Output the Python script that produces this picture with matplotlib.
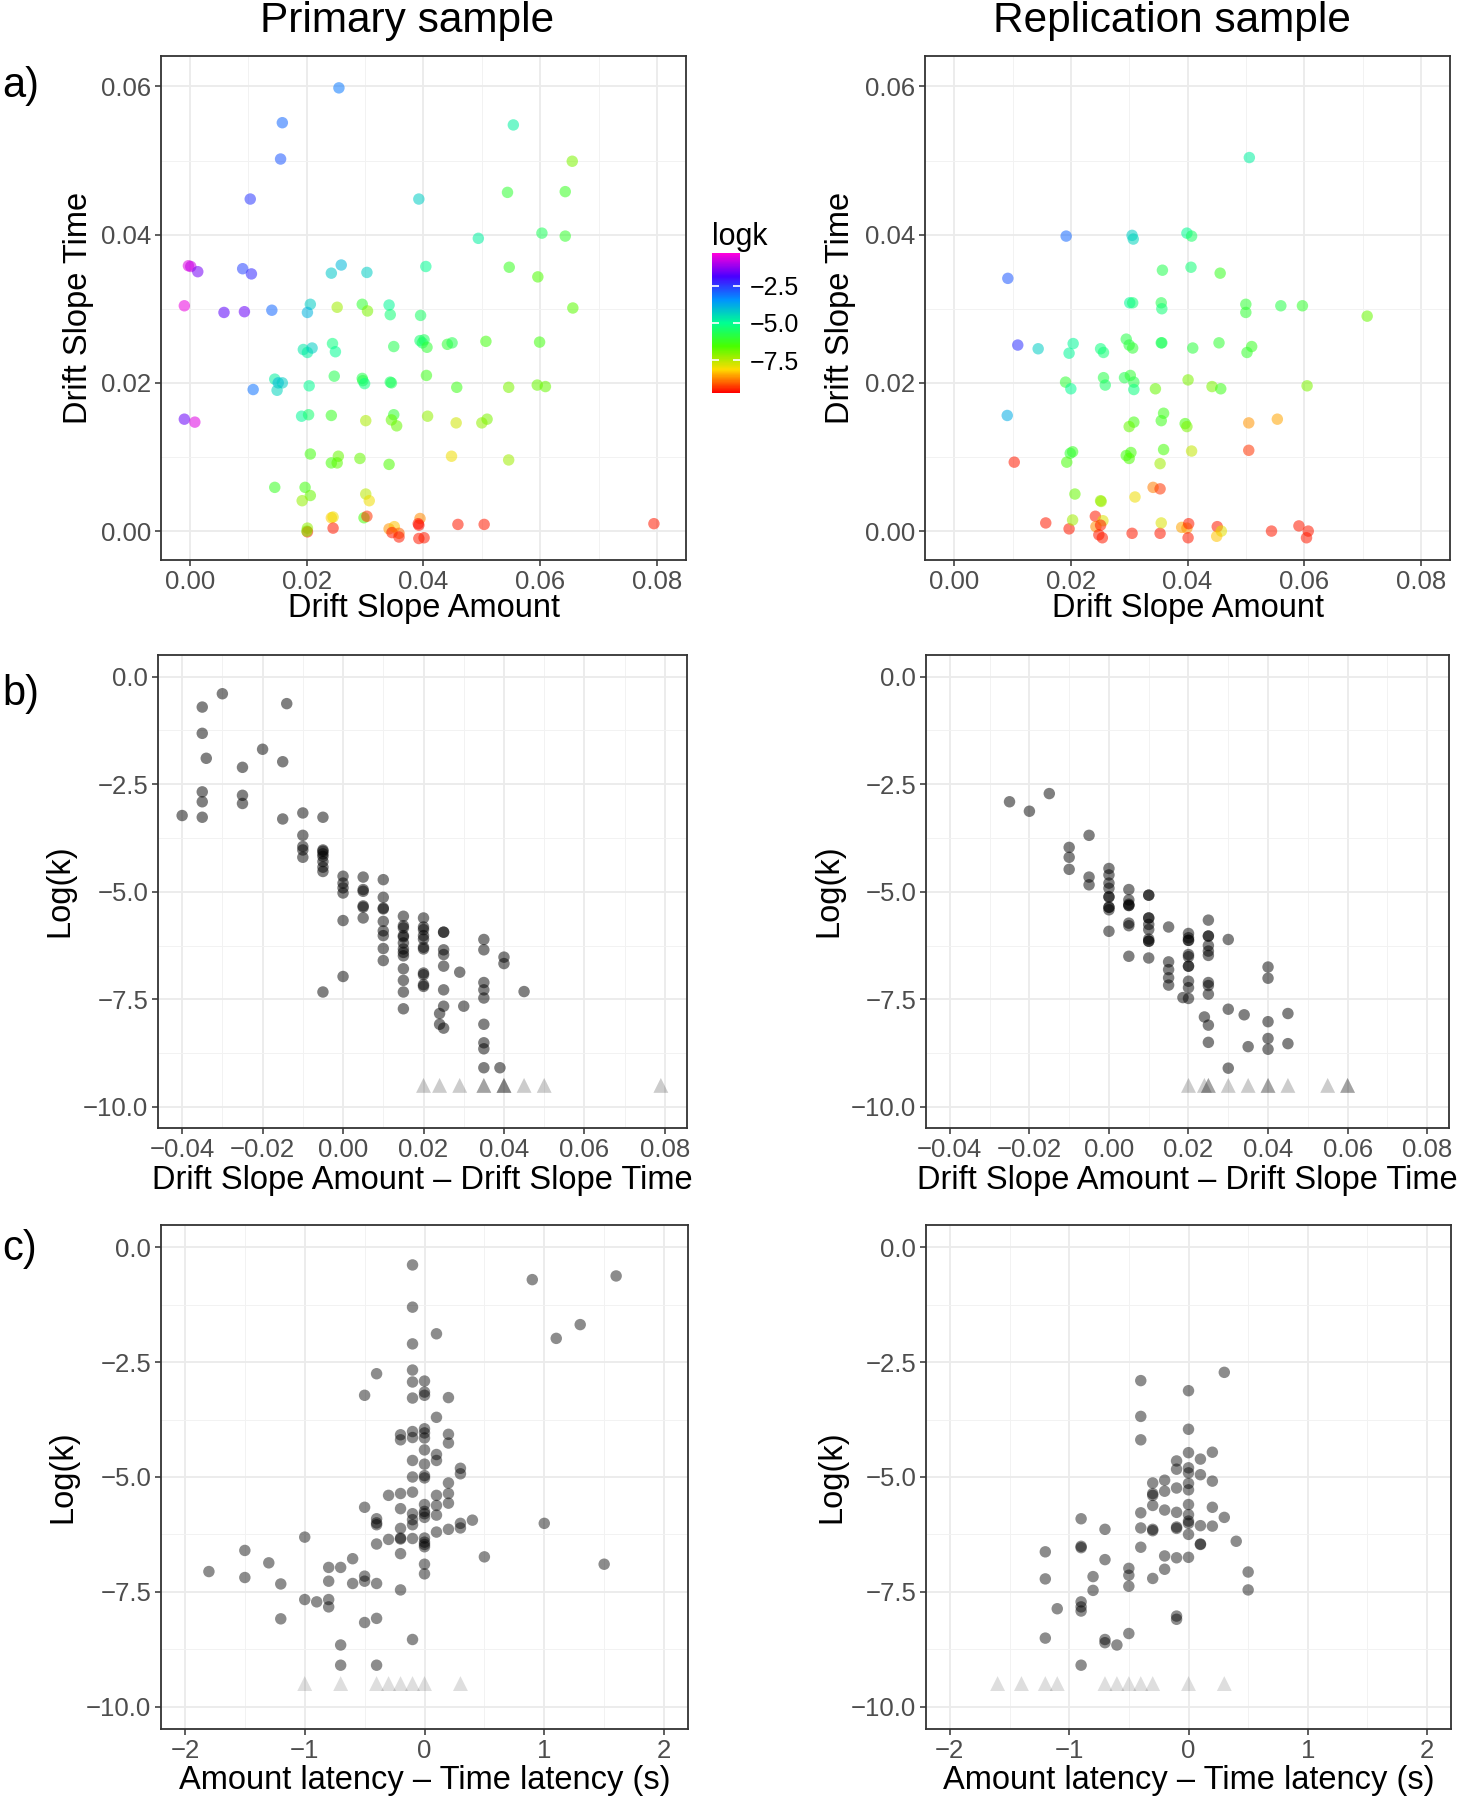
import numpy as np
import matplotlib
matplotlib.use("Agg")
import matplotlib.pyplot as plt
from matplotlib.colors import LinearSegmentedColormap, Normalize
from matplotlib.cm import ScalarMappable

# ---------------- data ----------------
# a) drift slopes, coloured by logk
prim_amount = [0.0255, 0.0158, 0.0155, 0.0103, 0.0554, 0.0655, 0.0544, 0.0643, 0.0392, 0.0494, 0.0603, 0.0643,
               -0.0003, 0.0001, 0.0013, 0.0090, 0.0105, 0.0242, 0.0259, 0.0303, 0.0404, 0.0547, 0.0596,
               -0.0010, 0.0058, 0.0093, 0.0140, 0.0206, 0.0201, 0.0252, 0.0295, 0.0304, 0.0341, 0.0343, 0.0395, 0.0656,
               0.0194, 0.0201, 0.0209, 0.0244, 0.0249, 0.0349, 0.0394, 0.0401, 0.0398, 0.0406, 0.0441, 0.0449, 0.0507, 0.0599,
               0.0145, 0.0151, 0.0158, 0.0149, 0.0108, 0.0204, 0.0247, 0.0295, 0.0296, 0.0299, 0.0343, 0.0345, 0.0405, 0.0457,
               0.0546, 0.0595, 0.0609,
               -0.0010, 0.0008, 0.0191, 0.0203, 0.0242, 0.0301, 0.0349, 0.0345, 0.0354, 0.0407, 0.0456, 0.0500, 0.0509,
               0.0206, 0.0254, 0.0242, 0.0252, 0.0291, 0.0341, 0.0448, 0.0546,
               0.0145, 0.0197, 0.0206, 0.0192, 0.0301, 0.0307,
               0.0242, 0.0245, 0.0298, 0.0303,
               0.0201, 0.0201, 0.0200, 0.0245, 0.0341, 0.0350, 0.0346, 0.0358, 0.0358, 0.0394, 0.0391, 0.0392, 0.0392,
               0.0401, 0.0459, 0.0504, 0.0795]
prim_time = [0.0598, 0.0551, 0.0502, 0.0448, 0.0548, 0.0499, 0.0457, 0.0458, 0.0448, 0.0395, 0.0402, 0.0398,
             0.0358, 0.0357, 0.0350, 0.0354, 0.0347, 0.0348, 0.0359, 0.0349, 0.0357, 0.0356, 0.0343,
             0.0304, 0.0295, 0.0296, 0.0298, 0.0306, 0.0295, 0.0302, 0.0306, 0.0297, 0.0305, 0.0292, 0.0291, 0.0301,
             0.0245, 0.0241, 0.0247, 0.0253, 0.0242, 0.0249, 0.0257, 0.0258, 0.0254, 0.0248, 0.0252, 0.0254, 0.0256, 0.0255,
             0.0205, 0.0200, 0.0200, 0.0190, 0.0191, 0.0196, 0.0209, 0.0206, 0.0203, 0.0199, 0.0201, 0.0200, 0.0210, 0.0194,
             0.0194, 0.0197, 0.0195,
             0.0151, 0.0147, 0.0155, 0.0157, 0.0156, 0.0149, 0.0157, 0.0150, 0.0142, 0.0155, 0.0146, 0.0146, 0.0151,
             0.0104, 0.0101, 0.0092, 0.0092, 0.0098, 0.0090, 0.0101, 0.0096,
             0.0059, 0.0059, 0.0048, 0.0041, 0.0050, 0.0041,
             0.0018, 0.0019, 0.0018, 0.0020,
             0.0004, -0.0001, 0.0000, 0.0004, 0.0003, 0.0006, -0.0002, -0.0003, -0.0008, 0.0017, 0.0010, 0.0008, -0.0010,
             -0.0009, 0.0009, 0.0009, 0.0010]
prim_logk = [-3.2, -3.0, -2.8, -2.5, -4.8, -7.0, -6.0, -6.2, -4.3, -4.8, -5.6, -6.1,
             -0.6, -0.8, -1.5, -2.6, -2.3, -4.2, -4.0, -4.3, -5.0, -6.2, -6.6,
             -0.5, -1.7, -1.6, -3.0, -4.3, -3.9, -7.3, -6.0, -7.0, -4.9, -5.3, -5.5, -6.7,
             -4.7, -4.8, -4.3, -5.2, -5.0, -5.7, -5.4, -5.6, -5.5, -6.0, -6.0, -5.7, -6.4, -6.4,
             -4.8, -4.0, -4.3, -4.4, -3.1, -5.0, -5.7, -5.7, -5.8, -5.2, -5.5, -5.6, -6.3, -6.3, -7.0, -6.8, -6.8,
             -1.6, -0.6, -4.9, -5.4, -6.2, -7.4, -6.0, -6.8, -6.8, -7.2, -7.7, -7.2, -7.0,
             -6.4, -6.8, -6.5, -6.7, -6.8, -6.6, -8.0, -7.3,
             -6.2, -6.4, -6.8, -7.2, -7.5, -8.0,
             -8.2, -8.0, -6.5, -9.3,
             -7.2, -9.5, -7.0, -9.5, -8.6, -8.3, -9.5, -9.0, -9.5, -8.7, -9.5, -9.6, -9.5, -9.5, -9.5, -9.5, -9.5]

rep_amount = [0.0506, 0.0192, 0.0305, 0.0307, 0.0399, 0.0407, 0.0092, 0.0357, 0.0406, 0.0456,
              0.0301, 0.0306, 0.0355, 0.0356, 0.0500, 0.0500, 0.0560, 0.0597, 0.0708,
              0.0109, 0.0144, 0.0204, 0.0197, 0.0251, 0.0256, 0.0295, 0.0300, 0.0306, 0.0355, 0.0356, 0.0409, 0.0454,
              0.0510, 0.0502,
              0.0191, 0.0200, 0.0256, 0.0259, 0.0292, 0.0302, 0.0308, 0.0308, 0.0345, 0.0401, 0.0442, 0.0457, 0.0605,
              0.0091, 0.0359, 0.0308, 0.0300, 0.0355, 0.0396, 0.0399, 0.0505, 0.0554,
              0.0103, 0.0203, 0.0199, 0.0193, 0.0295, 0.0303, 0.0300, 0.0359, 0.0353, 0.0407, 0.0505,
              0.0207, 0.0251, 0.0252, 0.0310, 0.0341, 0.0353,
              0.0157, 0.0197, 0.0203, 0.0242, 0.0255, 0.0243, 0.0251, 0.0248, 0.0254, 0.0305, 0.0353, 0.0355, 0.0390,
              0.0399, 0.0402, 0.0401, 0.0451, 0.0458, 0.0450, 0.0544, 0.0591, 0.0607, 0.0604]
rep_time = [0.0504, 0.0398, 0.0399, 0.0394, 0.0402, 0.0398, 0.0341, 0.0352, 0.0356, 0.0348,
            0.0308, 0.0308, 0.0308, 0.0300, 0.0306, 0.0295, 0.0304, 0.0304, 0.0290,
            0.0251, 0.0246, 0.0253, 0.0240, 0.0246, 0.0241, 0.0259, 0.0251, 0.0247, 0.0254, 0.0254, 0.0247, 0.0254,
            0.0249, 0.0241,
            0.0201, 0.0192, 0.0207, 0.0197, 0.0207, 0.0210, 0.0201, 0.0191, 0.0192, 0.0204, 0.0195, 0.0192, 0.0196,
            0.0156, 0.0159, 0.0147, 0.0141, 0.0149, 0.0145, 0.0141, 0.0146, 0.0151,
            0.0093, 0.0107, 0.0105, 0.0093, 0.0102, 0.0106, 0.0098, 0.0110, 0.0091, 0.0108, 0.0109,
            0.0050, 0.0041, 0.0040, 0.0046, 0.0059, 0.0057,
            0.0011, 0.0003, 0.0015, 0.0020, 0.0014, 0.0006, 0.0008, -0.0005, -0.0009, -0.0003, -0.0003, 0.0011, 0.0005,
            0.0004, 0.0010, -0.0009, 0.0006, 0.0000, -0.0007, 0.0000, 0.0007, 0.0000, -0.0009]
rep_logk = [-4.8, -3.0, -4.3, -4.4, -5.0, -5.5, -2.8, -5.7, -5.3, -6.2,
            -4.9, -5.3, -5.7, -5.3, -6.0, -6.0, -5.8, -6.1, -6.8,
            -2.4, -4.3, -4.9, -4.9, -5.2, -5.3, -5.8, -5.9, -6.0, -5.6, -5.6, -5.9, -6.0, -6.2, -6.1,
            -6.0, -5.0, -5.8, -5.5, -5.7, -6.0, -5.8, -5.2, -6.8, -7.0, -7.0, -6.3, -7.0,
            -3.8, -6.3, -6.4, -6.8, -6.3, -6.5, -7.0, -8.6, -8.5,
            -9.5, -6.2, -6.0, -6.5, -6.4, -6.5, -6.6, -6.5, -7.3, -7.6, -9.3,
            -6.8, -7.2, -7.3, -8.0, -8.8, -9.3,
            -9.5, -9.5, -7.3, -9.5, -7.8, -8.7, -9.5, -9.5, -9.5, -9.5, -9.5, -7.8, -8.5, -8.6, -9.5, -9.5, -9.5,
            -7.9, -8.3, -9.5, -9.5, -9.5, -9.5]

# b) logk vs (amount slope - time slope); triangles = logk below floor
prim_diff = [-0.040, -0.035, -0.035, -0.034, -0.035, -0.035, -0.035, -0.030, -0.025, -0.025, -0.025, -0.020, -0.015,
             -0.014, -0.015,
             -0.010, -0.010, -0.010, -0.010, -0.010,
             -0.005, -0.005, -0.005, -0.005, -0.005, -0.005, -0.005, -0.005, -0.005,
             0.000, 0.000, 0.000, 0.000, 0.000, 0.000,
             0.005, 0.005, 0.005, 0.005, 0.005, 0.005,
             0.010, 0.010, 0.010, 0.010, 0.010, 0.010, 0.010, 0.010, 0.010,
             0.015, 0.015, 0.015, 0.015, 0.015, 0.015, 0.015, 0.015, 0.015, 0.015, 0.015, 0.015, 0.015,
             0.020, 0.020, 0.020, 0.020, 0.020, 0.020, 0.020, 0.020, 0.020, 0.020, 0.020,
             0.025, 0.025, 0.025, 0.025, 0.025, 0.025, 0.025, 0.025, 0.024, 0.024,
             0.029, 0.030,
             0.035, 0.035, 0.035, 0.035, 0.035, 0.035, 0.035, 0.035, 0.035,
             0.039, 0.040, 0.040, 0.045]
prim_diff_logk = [-3.23, -0.71, -1.32, -1.90, -2.68, -2.91, -3.27, -0.40, -2.11, -2.76, -2.95, -1.69, -1.98,
                  -0.63, -3.31,
                  -3.17, -3.69, -3.95, -4.03, -4.20,
                  -3.27, -4.03, -4.06, -4.12, -4.18, -4.30, -4.43, -4.53, -7.33,
                  -4.64, -4.80, -4.91, -5.03, -5.67, -6.97,
                  -4.66, -4.95, -4.99, -5.33, -5.36, -5.61,
                  -4.72, -5.13, -5.38, -5.40, -5.69, -5.91, -6.02, -6.32, -6.60,
                  -5.57, -5.79, -5.84, -6.02, -6.05, -6.19, -6.33, -6.41, -6.49, -6.79, -7.06, -7.33, -7.72,
                  -5.61, -5.82, -5.88, -6.02, -6.10, -6.29, -6.33, -6.89, -6.93, -7.16, -7.20,
                  -5.94, -5.94, -6.35, -6.46, -6.73, -7.28, -7.66, -8.17, -7.83, -8.08,
                  -6.87, -7.66,
                  -6.11, -6.35, -7.11, -7.28, -7.47, -8.08, -8.51, -8.65, -9.09,
                  -9.09, -6.52, -6.67, -7.32]
prim_diff_floor = [0.020, 0.024, 0.029, 0.035, 0.035, 0.040, 0.040, 0.040, 0.045, 0.050, 0.079]

rep_diff = [-0.025, -0.020, -0.015,
            -0.010, -0.010, -0.010,
            -0.005, -0.005, -0.005,
            0.000, 0.000, 0.000, 0.000, 0.000, 0.000, 0.000, 0.000, 0.000, 0.000,
            0.005, 0.005, 0.005, 0.005, 0.005, 0.005, 0.005, 0.005,
            0.010, 0.010, 0.010, 0.010, 0.010, 0.010, 0.010, 0.010, 0.010, 0.010,
            0.015, 0.015, 0.015, 0.015, 0.015,
            0.020, 0.020, 0.020, 0.020, 0.020, 0.020, 0.020, 0.020, 0.020, 0.020, 0.020, 0.0186,
            0.025, 0.025, 0.025, 0.025, 0.025, 0.025, 0.025, 0.025, 0.025, 0.025, 0.025, 0.024,
            0.030, 0.030, 0.030,
            0.034, 0.035,
            0.040, 0.040, 0.040, 0.040, 0.040,
            0.045, 0.045]
rep_diff_logk = [-2.91, -3.13, -2.72,
                 -3.97, -4.20, -4.48,
                 -3.69, -4.66, -4.84,
                 -4.46, -4.61, -4.80, -4.92, -5.12, -5.12, -5.36, -5.36, -5.42, -5.92,
                 -4.95, -5.19, -5.29, -5.32, -5.32, -5.73, -5.79, -6.50,
                 -5.08, -5.08, -5.61, -5.61, -5.76, -5.88, -6.10, -6.15, -6.15, -6.54,
                 -5.82, -6.63, -6.81, -7.00, -7.17,
                 -5.97, -6.07, -6.13, -6.13, -6.46, -6.51, -6.73, -6.73, -7.08, -7.23, -7.48, -7.46,
                 -5.66, -6.03, -6.03, -6.25, -6.38, -6.48, -7.11, -7.18, -7.38, -8.10, -8.50, -7.91,
                 -6.11, -7.73, -9.10,
                 -7.86, -8.60,
                 -6.75, -7.01, -8.02, -8.41, -8.66,
                 -7.83, -8.53]
rep_diff_floor = [0.020, 0.024, 0.025, 0.025, 0.030, 0.035, 0.040, 0.040, 0.045, 0.055, 0.060, 0.060]

# c) logk vs (amount latency - time latency)
prim_lat = [-0.1, 0.9, 1.6, -0.1, 1.3, 0.1, 1.1, -0.1,
            -0.4, -0.1, -0.1, 0.0, 0.0, 0.0, -0.5, -0.1, 0.2, 0.1,
            -0.2, -0.2, -0.1, -0.1, 0.0, 0.0, 0.0, 0.2, 0.2, 0.0,
            -0.1, 0.1, 0.1, 0.0, 0.3, 0.3, -0.1, 0.0, 0.0, 0.2,
            -0.3, -0.2, -0.1, 0.1, 0.2, 0.2, -0.5, -0.2,
            0.0, 0.0, 0.0, 0.0, 0.1, 0.1, -0.1, -0.1, -0.1,
            -0.4, -0.4, -0.4, -0.2, -0.2, -0.2, -0.3, -0.1,
            0.0, 0.0, 0.0, 0.0, 0.1, 0.2, 0.3, 0.3, 0.4, 1.0,
            -1.0, -0.4, -0.2, -1.5, 0.5, -1.3, -0.6, -1.8,
            -0.8, -0.7, 0.0, 0.0, 1.5, -1.5, -0.8, -0.5, -0.5,
            -0.6, -0.4, -1.2, -0.2, -1.0, -0.9, -0.8, -0.8,
            -1.2, -0.5, -0.4, -0.1, -0.7, -0.7, -0.4]
prim_lat_logk = [-0.38, -0.70, -0.62, -1.30, -1.68, -1.88, -1.98, -2.10,
                 -2.75, -2.67, -2.93, -2.91, -3.15, -3.22, -3.22, -3.28, -3.27, -3.70,
                 -4.08, -4.19, -4.01, -4.14, -3.95, -4.04, -4.15, -4.07, -4.26, -4.41,
                 -4.64, -4.51, -4.64, -4.72, -4.81, -4.93, -5.00, -4.97, -5.02, -5.13,
                 -5.40, -5.36, -5.33, -5.40, -5.36, -5.57, -5.66, -5.69,
                 -5.60, -5.75, -5.80, -5.88, -5.62, -5.83, -5.80, -5.93, -6.04,
                 -5.91, -6.00, -6.04, -6.12, -6.33, -6.35, -6.36, -6.34,
                 -6.33, -6.42, -6.47, -6.52, -6.20, -6.14, -6.01, -6.11, -5.94, -6.01,
                 -6.31, -6.46, -6.67, -6.60, -6.74, -6.87, -6.78, -7.06,
                 -6.97, -6.97, -6.90, -7.11, -6.90, -7.19, -7.27, -7.16, -7.27,
                 -7.32, -7.32, -7.33, -7.46, -7.67, -7.72, -7.67, -7.83,
                 -8.09, -8.17, -8.08, -8.54, -8.66, -9.10, -9.10]
prim_lat_floor = [-1.0, -0.7, -0.4, -0.3, -0.2, -0.1, 0.0, 0.3]

rep_lat = [0.3, -0.4, 0.0, -0.4, 0.0, -0.4, 0.0, 0.2, -0.1, 0.1,
           -0.1, 0.0, 0.0, 0.1, 0.2, -0.3, -0.2, -0.2, 0.0, 0.0, -0.1,
           -0.3, -0.3, -0.3, -0.2, -0.1, 0.0, 0.0, 0.0, 0.0, 0.2, 0.3,
           -0.4, -0.4, -0.3, -0.3, -0.1, -0.1, 0.1, 0.2, 0.0, 0.1, 0.1, 0.4,
           -0.9, -0.7, -0.4, -0.9, -0.9, -1.2, -0.2, -0.1, 0.0, -0.7,
           -0.5, -0.5, -0.2, -0.8, -0.3, -1.2, 0.5, -0.5, -0.8, 0.5,
           -0.9, -0.9, -0.9, -1.1, -0.1, -0.1, -1.2, -0.7, -0.7, -0.6, -0.5, -0.9]
rep_lat_logk = [-2.72, -2.90, -3.12, -3.68, -3.96, -4.19, -4.47, -4.46, -4.65, -4.61,
                -4.83, -4.80, -4.91, -4.95, -5.09, -5.13, -5.07, -5.31, -5.14, -5.28, -5.24,
                -5.36, -5.40, -5.62, -5.72, -5.77, -5.60, -5.82, -5.96, -6.01, -5.66, -5.88,
                -5.78, -6.11, -6.14, -6.17, -6.09, -6.12, -6.06, -6.07, -6.25, -6.47, -6.46, -6.40,
                -5.91, -6.14, -6.53, -6.51, -6.54, -6.63, -6.72, -6.76, -6.75, -6.80,
                -6.99, -7.14, -7.01, -7.17, -7.21, -7.22, -7.07, -7.38, -7.47, -7.46,
                -7.72, -7.83, -7.92, -7.87, -8.03, -8.10, -8.51, -8.54, -8.61, -8.66, -8.41, -9.10]
rep_lat_floor = [-1.6, -1.4, -1.2, -1.1, -0.7, -0.6, -0.5, -0.4, -0.3, 0.0, 0.3]

floor_logk = -9.5
logk_range = (-9.7, -0.3)
rainbow_cols = ["#FF0000", "#FFDB00", "#49FF00", "#00FF92", "#0092FF", "#4900FF", "#FF00DB"]

# ---------------- figure ----------------
plt.rcParams['font.family'] = ['Liberation Sans', 'DejaVu Sans']
W, H = 1461, 1800
fig = plt.figure(figsize=(W / 100, H / 100), dpi=100)

cmap = LinearSegmentedColormap.from_list("rb", rainbow_cols)
norm = Normalize(*logk_range)

PT = 68      # circle size
TRI = 115    # triangle size


def px_axes(x0, y0, x1, y1):
    return fig.add_axes([x0 / W, 1 - y1 / H, (x1 - x0) / W, (y1 - y0) / H])


def lab(v, d):
    return f"{v:.{d}f}".replace("-", "\u2212")


def style(ax, xlim, ylim, xt, yt, xd, yd):
    ax.set_xlim(xlim)
    ax.set_ylim(ylim)
    ax.set_xticks(xt)
    ax.set_yticks(yt)
    ax.set_xticks([(a + b) / 2 for a, b in zip(xt[:-1], xt[1:])], minor=True)
    ax.set_yticks([(a + b) / 2 for a, b in zip(yt[:-1], yt[1:])], minor=True)
    ax.set_xticklabels([lab(v, xd) for v in xt])
    ax.set_yticklabels([lab(v, yd) for v in yt])
    ax.grid(which="major", color="#EBEBEB", lw=1.3)
    ax.grid(which="minor", color="#F2F2F2", lw=0.7)
    ax.set_axisbelow(True)
    ax.tick_params(which="major", length=4, width=1.1, color="#333333",
                   labelsize=18.5, labelcolor="#4D4D4D", pad=3)
    ax.tick_params(which="minor", length=0)
    for sp in ax.spines.values():
        sp.set_color("#333333")
        sp.set_linewidth(1.3)


def ylabel(x, y, s):
    fig.text(x / W, 1 - y / H, s, rotation=90, ha="center", va="center", fontsize=23.5)


def xlabel(x, y, s):
    fig.text(x / W, 1 - y / H, s, ha="center", va="center", fontsize=23.5)


a_xt = [0.0, 0.02, 0.04, 0.06, 0.08]
a_yt = [0.0, 0.02, 0.04, 0.06]
b_xt = [-0.04, -0.02, 0.0, 0.02, 0.04, 0.06, 0.08]
k_yt = [-10.0, -7.5, -5.0, -2.5, 0.0]
c_xt = [-2, -1, 0, 1, 2]

# row a
for (x0, x1), am, tm, lk, ylx in [((161, 686), prim_amount, prim_time, prim_logk, 78),
                                   ((925, 1450), rep_amount, rep_time, rep_logk, 841)]:
    ax = px_axes(x0, 56, x1, 560)
    ax.scatter(am, tm, c=lk, cmap=cmap, norm=norm, s=PT, alpha=0.55, edgecolors="none")
    style(ax, (-0.005, 0.085), (-0.0039, 0.0641), a_xt, a_yt, 2, 2)
    ylabel(ylx, 308, "Drift Slope Time")
    xlabel((x0 + x1) / 2, 608, "Drift Slope Amount")

# row b
for (x0, x1), dx, lk, fl, ylx in [((158, 687), prim_diff, prim_diff_logk, prim_diff_floor, 60),
                                   ((926, 1449), rep_diff, rep_diff_logk, rep_diff_floor, 829)]:
    ax = px_axes(x0, 655, x1, 1128)
    ax.scatter(dx, lk, color="black", s=PT, alpha=0.5, edgecolors="none")
    ax.scatter(fl, [floor_logk] * len(fl), color="black", marker="^", s=TRI, alpha=0.2, edgecolors="none")
    style(ax, (-0.046, 0.0855), (-10.49, 0.5), b_xt, k_yt, 2, 1)
    ylabel(ylx, 891, "Log(k)")
    xlabel((x0 + x1) / 2, 1180, "Drift Slope Amount \u2013 Drift Slope Time")

# row c
for (x0, x1), lt, lk, fl, ylx in [((161, 688), prim_lat, prim_lat_logk, prim_lat_floor, 63),
                                   ((926, 1451), rep_lat, rep_lat_logk, rep_lat_floor, 832)]:
    ax = px_axes(x0, 1225, x1, 1729)
    ax.scatter(lt, lk, color="black", s=PT, alpha=0.45, edgecolors="none")
    ax.scatter(fl, [floor_logk] * len(fl), color="black", marker="^", s=TRI, alpha=0.13, edgecolors="none")
    style(ax, (-2.2, 2.2), (-10.49, 0.49), c_xt, k_yt, 0, 1)
    ylabel(ylx, 1477, "Log(k)")
    xlabel((x0 + x1) / 2, 1780, "Amount latency \u2013 Time latency (s)")

# colour bar for logk
cax = px_axes(712, 253, 740, 393)
cb = fig.colorbar(ScalarMappable(norm=norm, cmap=cmap), cax=cax, ticks=[-2.5, -5.0, -7.5])
cb.outline.set_visible(False)
cb.ax.set_yticklabels([lab(v, 1) for v in [-2.5, -5.0, -7.5]])
cax.tick_params(length=5, width=1.2, color="white", direction="in", left=True, right=True,
                labelsize=18, pad=7)
fig.text(712 / W, 1 - 245 / H, "logk", ha="left", va="baseline", fontsize=22)

# titles and panel letters
fig.text(407 / W, 1 - 21 / H, "Primary sample", ha="center", va="center", fontsize=30.5)
fig.text(1172 / W, 1 - 21 / H, "Replication sample", ha="center", va="center", fontsize=30.5)
for s, y in [("a)", 86), ("b)", 694), ("c)", 1249)]:
    fig.text(2 / W, 1 - y / H, s, ha="left", va="center", fontsize=30)

fig.savefig("out.png", dpi=100)
